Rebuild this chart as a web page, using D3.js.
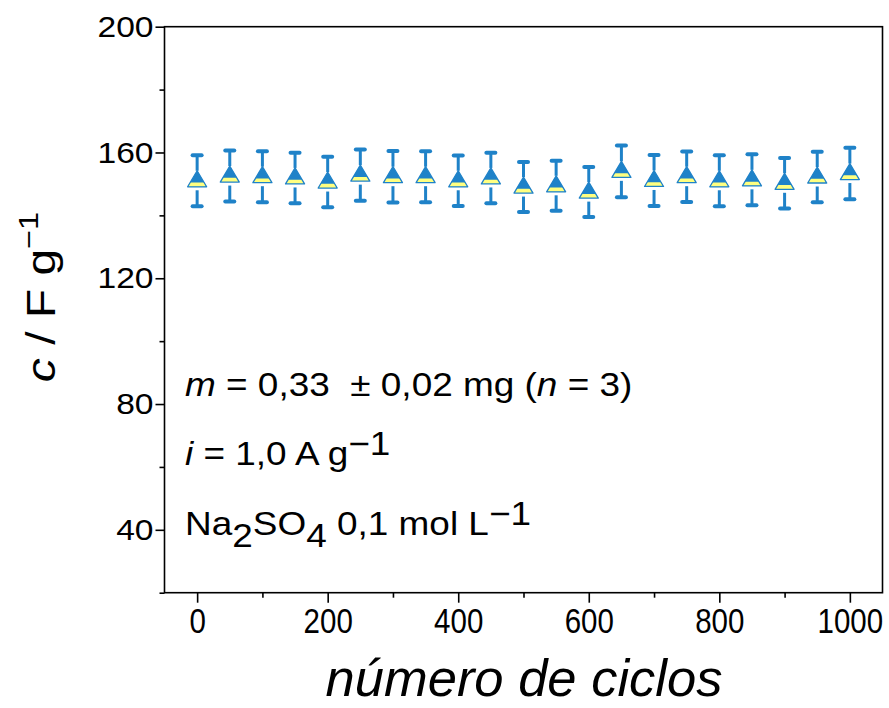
<!DOCTYPE html>
<html><head><meta charset="utf-8">
<script src="https://cdn.jsdelivr.net/npm/d3@7"></script>
<style>
body{margin:0;background:#fff}
svg{display:block}
text{font-family:"Liberation Sans", Arial, sans-serif; white-space:pre}
</style>
</head><body><svg id="c" width="889" height="708"></svg>
<script>
// ---- data ----
const cycles = [0,50,100,150,200,250,300,350,400,450,500,550,600,650,700,750,800,850,900,950,1000];
const capacitance = [151.0,152.5,152.3,151.9,150.6,152.8,152.3,152.3,151.0,151.9,149.0,149.4,147.4,154.0,151.1,152.3,151.0,151.3,150.2,152.2,153.3];
const errorBars = [8.1,8.1,8.1,8.05,8.05,8.15,8.2,8.1,8.05,8.05,7.95,7.95,7.95,8.2,8.1,8.05,8.1,8.1,8.05,8.05,8.2];
const xTicks = [0,200,400,600,800,1000];
const xMinorTicks = [100,300,500,700,900];
const yTicks = [40,80,120,160,200];
const yMinorTicks = [20,60,100,140,180];
const xDomain = [-50,1050];
const yDomain = [20,200];

// ---- layout ----
const L = 164.5, R = 882.5, T = 26.7, B = 592.7;
const blue = "#1f82c8", yellow = "#ffff80";
const svg = d3.select("#c");
const x = d3.scaleLinear().domain(xDomain).range([L,R]);
const y = d3.scaleLinear().domain(yDomain).range([B,T]);

// frame
svg.append("rect").attr("x",L).attr("y",T).attr("width",R-L).attr("height",B-T)
  .attr("fill","none").attr("stroke","#000").attr("stroke-width",1.6);

function styleAxis(g){ g.select(".domain").remove(); g.selectAll("line").attr("stroke","#000").attr("stroke-width",1.6); }

// x axis
const xSX = 0.82;
const gx = svg.append("g").attr("transform",`translate(0,${B})`)
  .call(d3.axisBottom(x).tickValues(xTicks).tickSize(10).tickPadding(5).tickFormat(d3.format("d"))).call(styleAxis);
gx.selectAll(".tick text").attr("font-size",36).attr("fill","#000")
  .attr("font-family",'"Liberation Sans", Arial, sans-serif')
  .attr("transform",`scale(${xSX},1)`);
svg.append("g").attr("transform",`translate(0,${B})`)
  .call(d3.axisBottom(x).tickValues(xMinorTicks).tickSize(5).tickFormat("")).call(styleAxis);

// y axis
const ySX = 1.12;
const gy = svg.append("g").attr("transform",`translate(${L},0)`)
  .call(d3.axisLeft(y).tickValues(yTicks).tickSize(9).tickPadding(3).tickFormat(d3.format("d"))).call(styleAxis);
gy.selectAll(".tick text").attr("font-size",30).attr("fill","#000")
  .attr("font-family",'"Liberation Sans", Arial, sans-serif')
  .attr("x",-11/ySX).attr("transform",`scale(${ySX},1)`);
svg.append("g").attr("transform",`translate(${L},0)`)
  .call(d3.axisLeft(y).tickValues(yMinorTicks).tickSize(5).tickFormat("")).call(styleAxis);

// data points
const pts = cycles.map((c,i)=>({c, v:capacitance[i], e:errorBars[i]}));
const g = svg.append("g");
const apex = 10, base = 6, hw = 9.5, band = 4.2, gap = 9.5, capW = 6.5;
pts.forEach(p=>{
  const cx = x(p.c), cy = y(p.v), yt = y(p.v+p.e), yb = y(p.v-p.e);
  g.append("line").attr("x1",cx).attr("x2",cx).attr("y1",yt).attr("y2",cy-apex)
    .attr("stroke",blue).attr("stroke-width",3);
  g.append("line").attr("x1",cx).attr("x2",cx).attr("y1",cy+gap).attr("y2",yb)
    .attr("stroke",blue).attr("stroke-width",3);
  [yt,yb].forEach(yy=>g.append("line").attr("x1",cx-capW+2).attr("x2",cx+capW-2).attr("y1",yy).attr("y2",yy)
    .attr("stroke",blue).attr("stroke-width",4).attr("stroke-linecap","round"));
  g.append("path").attr("d",`M${cx},${cy-apex}L${cx+hw},${cy+base}L${cx-hw},${cy+base}Z`)
    .attr("fill",blue);
  const yb0 = base-band, w0 = hw*(yb0+apex)/(base+apex);
  g.append("path").attr("d",`M${cx-w0},${cy+yb0}L${cx+w0},${cy+yb0}L${cx+hw},${cy+base}L${cx-hw},${cy+base}Z`)
    .attr("fill",yellow);
  g.append("path").attr("d",`M${cx},${cy-apex}L${cx+hw},${cy+base}L${cx-hw},${cy+base}Z`)
    .attr("fill","none").attr("stroke",blue).attr("stroke-width",1.3).attr("stroke-linejoin","round");
});

// axis titles
svg.append("text").attr("x",524).attr("y",696).attr("text-anchor","middle")
  .attr("font-size",52.5).attr("font-style","italic").text("número de ciclos");

const yl = svg.append("text").attr("transform","translate(55,297) rotate(-90) scale(1.2,1)")
  .attr("text-anchor","middle").attr("font-size",40);
yl.append("tspan").attr("font-style","italic").text("c");
yl.append("tspan").text(" / F g");
yl.append("tspan").attr("font-size",27).attr("dy",-17).text("−1");

// annotations
const aSX = 1.12;
function ann(yy){ return svg.append("text").attr("transform",`translate(185,${yy}) scale(${aSX},1)`).attr("font-size",33); }
const a1 = ann(396);
a1.append("tspan").attr("font-style","italic").text("m");
a1.append("tspan").text(" = 0,33  ± 0,02 mg (");
a1.append("tspan").attr("font-style","italic").text("n");
a1.append("tspan").text(" = 3)");
const a2 = ann(465);
a2.append("tspan").attr("font-style","italic").text("i");
a2.append("tspan").text(" = 1,0 A g");
a2.append("tspan").attr("dy",-10).text("−1");
const a3 = ann(535);
a3.append("tspan").text("Na");
a3.append("tspan").attr("dy",12).text("2");
a3.append("tspan").attr("dy",-12).text("SO");
a3.append("tspan").attr("dy",12).text("4");
a3.append("tspan").attr("dy",-12).text(" 0,1 mol L");
a3.append("tspan").attr("dy",-10).text("−1");
</script>
</body></html>
